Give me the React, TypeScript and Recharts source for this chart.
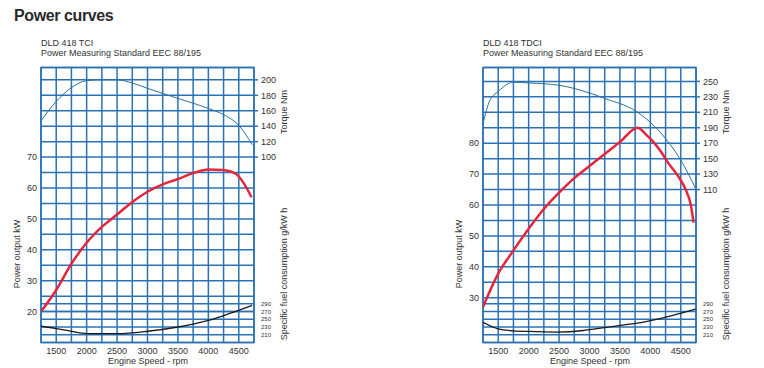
import { CartesianGrid, Line, LineChart, ReferenceArea, ReferenceLine, XAxis, YAxis } from "recharts";

// shared axes
const rpmGrid = [1250, 1500, 1750, 2000, 2250, 2500, 2750, 3000, 3250, 3500, 3750, 4000, 4250, 4500, 4750];
const rpmLabels = [1500, 2000, 2500, 3000, 3500, 4000, 4500];
const fuelLines = [210, 230, 250, 270, 290];

// DLD 418 TCI
const tciTorqueRpm = [1250, 1500, 1750, 2000, 2250, 2500, 2750, 3000, 3500, 4000, 4250, 4500, 4600, 4720];
const tciTorque = [147, 172, 190, 199, 200, 200, 196, 189, 176, 163, 155, 141, 131, 116];
const tciPowerRpm = [1250, 1500, 1750, 2000, 2250, 2500, 2750, 3000, 3250, 3500, 3750, 4000, 4250, 4450, 4570, 4710];
const tciPower = [20, 27, 35.5, 42.3, 47.4, 51.4, 55.5, 58.8, 61.2, 62.9, 64.8, 66, 65.8, 64.6, 61.9, 57];
const tciFuelRpm = [1250, 1500, 1750, 2000, 2500, 3000, 3500, 4000, 4350, 4720];
const tciFuel = [232, 226, 219, 213, 213, 219, 230, 247, 265, 286];
const tciKwGrid = [20, 25, 30, 35, 40, 45, 50, 55, 60, 65, 70, 75, 80, 85, 90, 95];
const tciKwLabels = [20, 30, 40, 50, 60, 70];
const tciTorqueLabels = [100, 120, 140, 160, 180, 200];

// DLD 418 TDCI
const tdciTorqueRpm = [1250, 1360, 1500, 1750, 2000, 2500, 3000, 3250, 3750, 4000, 4250, 4500, 4600, 4740];
const tdciTorque = [195, 225, 237, 249, 248, 245, 235, 228, 212, 197, 176, 148, 134, 112];
const tdciPowerRpm = [1250, 1500, 1750, 2000, 2250, 2500, 2750, 3000, 3250, 3500, 3790, 3930, 4040, 4170, 4290, 4450, 4580, 4665, 4710];
const tdciPower = [27, 37.8, 45.3, 52.3, 58.7, 64, 68.7, 72.6, 76.5, 80.4, 85, 82.8, 80.6, 77.4, 73.7, 69.5, 65, 60, 54.3];
const tdciFuelRpm = [1250, 1500, 1750, 2000, 2450, 2900, 3000, 3460, 3930, 4370, 4740];
const tdciFuel = [242, 225, 220, 218.5, 217, 221, 223, 233, 244, 260, 276];
const tdciKwGrid = [30, 35, 40, 45, 50, 55, 60, 65, 70, 75, 80, 85, 90, 95, 100];
const tdciKwLabels = [30, 40, 50, 60, 70, 80];
const tdciTorqueLabels = [110, 130, 150, 170, 190, 210, 230, 250];

const BLUE = "#2a72b5";
const TEXT = "#333";
const FONT = "'Liberation Sans', Arial, sans-serif";

const toRows = (xs: number[], ys: number[]) => xs.map((rpm, i) => ({ rpm, v: ys[i] }));

const rotated = (text: string, cx: number, cy: number) => (
  <div
    style={{
      position: "absolute",
      left: cx,
      top: cy,
      transform: "translate(-50%, -50%) rotate(-90deg)",
      whiteSpace: "nowrap",
      fontSize: 9,
      color: TEXT,
    }}
  >
    {text}
  </div>
);

type EngineProps = {
  left: number;
  model: string;
  kwDomain: number[];
  tqDomain: number[];
  kwGrid: number[];
  kwLabels: number[];
  tqLabels: number[];
  torque: { rpm: number; v: number }[];
  power: { rpm: number; v: number }[];
  fuel: { rpm: number; v: number }[];
};

const EngineChart = (p: EngineProps) => (
  <>
    <div style={{ position: "absolute", left: p.left + 41, top: 39, fontSize: 9, lineHeight: "9.5px", color: TEXT }}>
      <div>{p.model}</div>
      <div>Power Measuring Standard EEC 88/195</div>
    </div>
    <div style={{ position: "absolute", left: p.left, top: 0 }}>
      <LineChart width={300} height={368} margin={{ top: 67.5, right: 6, bottom: 5.5, left: 0 }}>
        <XAxis
          dataKey="rpm"
          type="number"
          domain={[1250, 4750]}
          ticks={rpmGrid}
          interval={0}
          allowDataOverflow
          tickFormatter={(v: number) => (rpmLabels.includes(v) ? String(v) : "")}
          height={20}
          tickSize={3}
          tickMargin={2}
          axisLine={false}
          tickLine={false}
          tick={{ fontSize: 9, fill: TEXT }}
        />
        <YAxis
          yAxisId="kw"
          type="number"
          domain={p.kwDomain}
          ticks={p.kwGrid}
          interval={0}
          allowDataOverflow
          tickFormatter={(v: number) => (p.kwLabels.includes(v) ? String(v) : "")}
          width={41}
          tickSize={0}
          tickMargin={4}
          axisLine={false}
          tickLine={false}
          tick={{ fontSize: 9, fill: TEXT }}
        />
        <YAxis
          yAxisId="tq"
          orientation="right"
          type="number"
          domain={p.tqDomain}
          ticks={p.tqLabels}
          interval={0}
          allowDataOverflow
          width={40}
          tickSize={4}
          tickMargin={3}
          axisLine={false}
          tickLine={{ stroke: BLUE, strokeWidth: 1.5 }}
          tick={{ fontSize: 9, fill: TEXT }}
        />
        <YAxis yAxisId="zfc" orientation="right" type="number" domain={[190, 900]} allowDataOverflow width={0} hide />
        <CartesianGrid yAxisId="kw" stroke={BLUE} strokeWidth={1.5} />
        {fuelLines.map((v) => (
          <ReferenceLine
            key={v}
            yAxisId="zfc"
            y={v}
            stroke={BLUE}
            strokeWidth={1.5}
            label={{ value: String(v), position: "right", offset: 7, fontSize: 6, fill: TEXT }}
          />
        ))}
        <ReferenceArea
          yAxisId="kw"
          x1={1250}
          x2={4750}
          y1={p.kwDomain[0]}
          y2={p.kwDomain[1]}
          fill="none"
          fillOpacity={0}
          stroke={BLUE}
          strokeWidth={1.5}
        />
        <Line yAxisId="zfc" data={p.fuel} dataKey="v" type="monotone" stroke="#1a1a1a" strokeWidth={1.3} dot={false} isAnimationActive={false} />
        <Line yAxisId="tq" data={p.torque} dataKey="v" type="monotone" stroke="#2b6f9e" strokeWidth={1} dot={false} isAnimationActive={false} />
        <Line yAxisId="kw" data={p.power} dataKey="v" type="monotone" stroke="#e3263b" strokeWidth={2.5} dot={false} isAnimationActive={false} />
      </LineChart>
    </div>
    {rotated("Power output kW", p.left + 17, 254)}
    {rotated("Torque Nm", p.left + 284, 112)}
    {rotated("Specific fuel consumption g/kW h", p.left + 284, 274)}
    <div style={{ position: "absolute", left: p.left + 148, top: 360.5, transform: "translate(-50%, -50%)", fontSize: 9, color: TEXT, whiteSpace: "nowrap" }}>
      Engine Speed - rpm
    </div>
  </>
);

export default function App() {
  return (
    <div style={{ position: "absolute", left: 0, top: 0, width: 764, height: 368, background: "#fff", fontFamily: FONT, overflow: "hidden" }}>
      <div style={{ position: "absolute", left: 14, top: 7, fontSize: 16, fontWeight: 700, color: "#2a2a2a", letterSpacing: -0.4 }}>
        Power curves
      </div>
      <EngineChart
        left={0}
        model="DLD 418 TCI"
        kwDomain={[10, 99]}
        tqDomain={[-140, 216]}
        kwGrid={tciKwGrid}
        kwLabels={tciKwLabels}
        tqLabels={tciTorqueLabels}
        torque={toRows(tciTorqueRpm, tciTorque)}
        power={toRows(tciPowerRpm, tciPower)}
        fuel={toRows(tciFuelRpm, tciFuel)}
      />
      <EngineChart
        left={442}
        model="DLD 418 TDCI"
        kwDomain={[15.5, 104.5]}
        tqDomain={[-88, 268]}
        kwGrid={tdciKwGrid}
        kwLabels={tdciKwLabels}
        tqLabels={tdciTorqueLabels}
        torque={toRows(tdciTorqueRpm, tdciTorque)}
        power={toRows(tdciPowerRpm, tdciPower)}
        fuel={toRows(tdciFuelRpm, tdciFuel)}
      />
    </div>
  );
}
